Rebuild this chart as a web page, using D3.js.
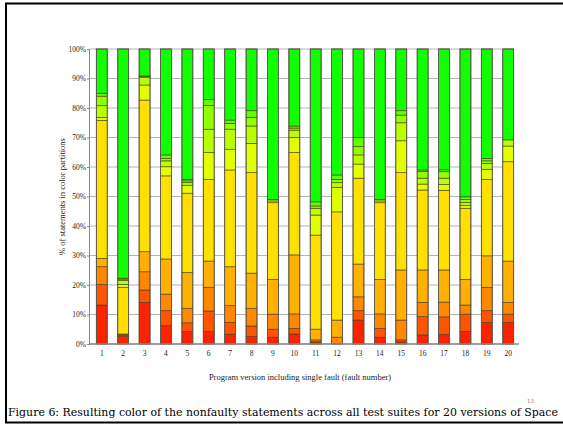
<!DOCTYPE html>
<html>
<head>
<meta charset="utf-8">
<script src="https://cdn.jsdelivr.net/npm/d3@7"></script>
<style>
  body { margin: 0; background: #fff; }
  svg { display: block; }
</style>
</head>
<body>
<svg id="chart" width="563" height="426"></svg>
<script>
// fault numbers on the x axis
let versions = d3.range(1, 21).map(String);

// color partitions, red (bad) to green (good)
let partitionColors = ["#ff2200", "#ff5500", "#ff8800", "#ffb000", "#ffe000",
                       "#e2ff00", "#b8ff00", "#90ff00", "#60ff00", "#11ff00"];

// % of statements in each partition, one row per version (bottom to top)
let bar1  = [13.2, 7.0, 6.0, 2.8, 46.8, 1.0, 4.0, 3.2, 1.0, 15.0];
let bar2  = [2.5, 0.4, 0.3, 0.2, 15.8, 1.0, 1.3, 0.5, 0.3, 77.7];
let bar3  = [14.1, 4.2, 6.2, 6.8, 51.4, 5.1, 2.6, 0.3, 0.2, 9.1];
let bar4  = [6.2, 5.1, 5.6, 11.9, 28.2, 3.1, 2.0, 0.8, 1.2, 35.9];
let bar5  = [4.2, 3.0, 4.9, 12.1, 26.9, 2.7, 0.9, 0.6, 0.5, 44.2];
let bar6  = [4.2, 7.0, 8.0, 8.9, 27.7, 9.1, 7.9, 8.0, 2.1, 17.1];
let bar7  = [3.3, 4.0, 5.7, 13.2, 32.8, 7.0, 6.8, 2.0, 1.1, 24.1];
let bar8  = [2.5, 3.6, 6.0, 11.9, 34.1, 9.9, 5.9, 2.9, 2.3, 20.9];
let bar9  = [2.3, 2.7, 5.1, 11.8, 26.0, 0.6, 0.5, 0, 0, 51.0];
let bar10 = [3.4, 1.9, 4.9, 20.0, 34.7, 5.1, 2.5, 0.7, 0.7, 26.1];
let bar11 = [0.6, 0.2, 0.6, 3.6, 31.9, 6.8, 2.3, 0.8, 1.4, 51.8];
let bar12 = [0, 0, 2.3, 5.8, 36.7, 8.3, 1.6, 1.1, 1.5, 42.7];
let bar13 = [8.1, 3.2, 4.7, 11.1, 29.1, 4.8, 3.1, 2.8, 3.1, 30.0];
let bar14 = [2.3, 3.0, 4.9, 11.7, 26.0, 0.6, 0.5, 0, 0, 51.0];
let bar15 = [0.7, 0.7, 6.7, 17.0, 33.0, 10.8, 6.1, 2.6, 1.5, 20.9];
let bar16 = [3.1, 6.2, 4.8, 11.0, 27.1, 2.0, 2.0, 2.3, 0.5, 41.0];
let bar17 = [3.2, 6.0, 5.0, 10.9, 27.0, 2.0, 2.1, 2.3, 0.6, 40.9];
let bar18 = [4.2, 5.9, 3.1, 8.7, 24.1, 1.0, 1.0, 1.0, 0.9, 50.1];
let bar19 = [7.3, 4.0, 7.9, 10.7, 25.9, 3.4, 2.0, 0.9, 0.8, 37.1];
let bar20 = [7.3, 2.8, 4.0, 14.0, 33.7, 5.3, 2.1, 0, 0, 30.8];

let allBars = [bar1, bar2, bar3, bar4, bar5, bar6, bar7, bar8, bar9, bar10,
               bar11, bar12, bar13, bar14, bar15, bar16, bar17, bar18, bar19, bar20];

let yTicks = d3.range(0, 101, 10);

let svg = d3.select("#chart");

// page frame
svg.append("path")
  .attr("d", "M563,3.5 H6 V422.5 H563")
  .attr("fill", "none")
  .attr("stroke", "#000")
  .attr("stroke-width", 2);

let plotLeft = 89, plotRight = 519, plotTop = 49, plotBottom = 344;

let x = d3.scaleBand()
  .domain(versions)
  .range([plotLeft + 2, plotRight])
  .paddingInner(0.49)
  .paddingOuter(0.25);

let y = d3.scaleLinear()
  .domain([0, 100])
  .range([plotBottom, plotTop]);

// grid
svg.append("g")
  .selectAll("line")
  .data(yTicks)
  .join("line")
  .attr("x1", plotLeft)
  .attr("x2", plotRight - 5)
  .attr("y1", d => y(d))
  .attr("y2", d => y(d))
  .attr("stroke", "#b4b4b4")
  .attr("stroke-width", 1);

// stacked bars
let rows = versions.map((v, i) => {
  let start = 0;
  return allBars[i].map((val, k) => {
    let seg = {version: v, k: k, y0: start, y1: start + val};
    start += val;
    return seg;
  });
});

let barG = svg.append("g");
rows.forEach(segs => {
  let g = barG.append("g");
  g.selectAll("rect")
    .data(segs.filter(s => s.y1 - s.y0 > 0))
    .join("rect")
    .attr("x", d => x(d.version))
    .attr("width", x.bandwidth())
    .attr("y", d => y(d.y1))
    .attr("height", d => y(d.y0) - y(d.y1))
    .attr("fill", d => partitionColors[d.k])
    .attr("stroke", "#4a3a10")
    .attr("stroke-opacity", 0.75)
    .attr("stroke-width", 0.8);
  // outline of the whole bar
  g.append("rect")
    .attr("x", x(segs[0].version))
    .attr("width", x.bandwidth())
    .attr("y", y(100))
    .attr("height", y(0) - y(100))
    .attr("fill", "none")
    .attr("stroke", "#555")
    .attr("stroke-width", 0.8);
});

// axes
let yAxis = svg.append("g")
  .attr("transform", `translate(${plotLeft},0)`)
  .call(d3.axisLeft(y).tickValues(yTicks).tickFormat(d => d + "%").tickSize(2).tickPadding(1));
yAxis.select(".domain").attr("stroke", "#888");
yAxis.selectAll(".tick line").attr("stroke", "#888");
yAxis.selectAll("text")
  .attr("font-family", "Liberation Serif")
  .attr("font-size", 7.5)
  .attr("fill", "#222");

let xAxis = svg.append("g")
  .attr("transform", `translate(0,${plotBottom})`)
  .call(d3.axisBottom(x).tickSize(0).tickPadding(7));
xAxis.select(".domain").attr("stroke", "#888").attr("stroke-width", 1.5)
  .attr("d", `M${plotLeft},0H${plotRight}`);
xAxis.selectAll("text")
  .attr("font-family", "Liberation Serif")
  .attr("font-size", 7.5)
  .attr("fill", "#222");

// axis titles
svg.append("text")
  .attr("transform", `translate(65,${(plotTop + plotBottom) / 2}) rotate(-90)`)
  .attr("text-anchor", "middle")
  .attr("font-family", "Liberation Serif")
  .attr("font-size", 8.5)
  .attr("fill", "#222")
  .text("% of statements in color partitions");

svg.append("text")
  .attr("x", 300)
  .attr("y", 380)
  .attr("text-anchor", "middle")
  .attr("font-family", "Liberation Serif")
  .attr("font-size", 8.5)
  .attr("fill", "#222")
  .text("Program version including single fault (fault number)");

// caption
svg.append("text")
  .attr("x", 8)
  .attr("y", 416)
  .attr("font-family", "DejaVu Serif")
  .attr("font-size", 11)
  .attr("textLength", 550)
  .attr("lengthAdjust", "spacingAndGlyphs")
  .attr("fill", "#000")
  .text("Figure 6: Resulting color of the nonfaulty statements across all test suites for 20 versions of Space");

svg.append("text")
  .attr("x", 527)
  .attr("y", 403)
  .attr("font-family", "DejaVu Serif")
  .attr("font-size", 5.5)
  .attr("fill", "#777")
  .text("13");
</script>
</body>
</html>
